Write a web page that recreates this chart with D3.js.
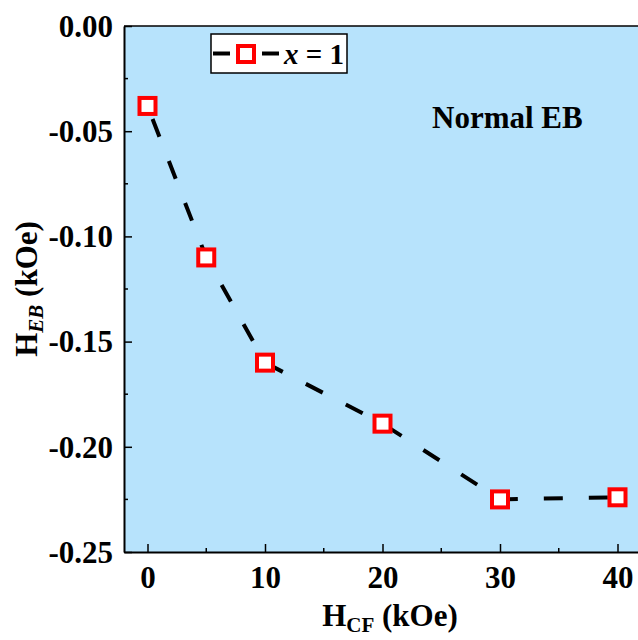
<!DOCTYPE html>
<html>
<head>
<meta charset="utf-8">
<script src="https://cdn.jsdelivr.net/npm/d3@7"></script>
<style>
  body { margin: 0; background: #fff; }
  svg text { font-family: "Liberation Serif", Tinos, "Times New Roman", Times, "DejaVu Serif", serif !important; font-weight: bold; }
</style>
</head>
<body>
<svg id="chart" width="638" height="640"></svg>
<script>
// data
const hcf = [0, 5, 10, 20, 30, 40];
const heb = [-0.038, -0.110, -0.160, -0.189, -0.225, -0.224];
const xTicks = [0, 10, 20, 30, 40];
const yTicks = [0, -0.05, -0.10, -0.15, -0.20, -0.25];

const svg = d3.select("#chart");
const plotL = 124, plotT = 26, plotB = 552, plotR = 641;
const serif = "'Liberation Serif', Tinos, 'Times New Roman', Times, 'DejaVu Serif', serif";

const x = d3.scaleLinear().domain([-2, 42]).range([plotL, plotR]);
const y = d3.scaleLinear().domain([-0.25, 0]).range([plotB, plotT]);

// plot background
svg.append("rect")
    .attr("x", plotL).attr("y", plotT)
    .attr("width", plotR - plotL).attr("height", plotB - plotT)
    .attr("fill", "#b7e3fc");

// top border
svg.append("line")
    .attr("x1", plotL).attr("x2", plotR)
    .attr("y1", plotT).attr("y2", plotT)
    .attr("stroke", "#000").attr("stroke-width", 1.5);

// bottom axis
let xAxis = svg.append("g")
    .attr("transform", `translate(0,${plotB})`)
    .call(d3.axisBottom(x).tickValues(xTicks).tickSize(-8).tickPadding(14).tickSizeOuter(0));
xAxis.append("g").selectAll("line")
    .data([5, 15, 25, 35])
    .enter().append("line")
    .attr("x1", d => x(d)).attr("x2", d => x(d))
    .attr("y1", 0).attr("y2", -4)
    .attr("stroke", "#000").attr("stroke-width", 1.5);

// left axis
let yAxis = svg.append("g")
    .attr("transform", `translate(${plotL},0)`)
    .call(d3.axisLeft(y).tickValues(yTicks)
        .tickFormat(d => d3.format(".2f")(d).replace("\u2212", "-"))
        .tickSize(-8).tickPadding(11).tickSizeOuter(0));
yAxis.append("g").selectAll("line")
    .data([-0.025, -0.075, -0.125, -0.175, -0.225])
    .enter().append("line")
    .attr("x1", 0).attr("x2", 4)
    .attr("y1", d => y(d)).attr("y2", d => y(d))
    .attr("stroke", "#000").attr("stroke-width", 1.5);

svg.selectAll("g").attr("font-family", serif);
svg.selectAll(".domain").attr("stroke", "#000").attr("stroke-width", 2);
svg.selectAll(".tick line").attr("stroke", "#000").attr("stroke-width", 1.5);
svg.selectAll(".tick text")
    .attr("font-weight", "bold")
    .attr("font-size", 31)
    .attr("fill", "#000");
yAxis.selectAll(".tick text").attr("dy", "0.33em");

// dashed line
const pts = hcf.map((d, i) => [d, heb[i]]);
svg.append("path")
    .datum(pts)
    .attr("fill", "none")
    .attr("stroke", "#000")
    .attr("stroke-width", 4)
    .attr("stroke-dasharray", "19,26")
    .attr("stroke-dashoffset", -14)
    .attr("d", d3.line().x(d => x(d[0])).y(d => y(d[1])));

// markers
svg.selectAll("rect.pt")
    .data(pts)
    .enter().append("rect")
    .attr("class", "pt")
    .attr("x", d => x(d[0]) - 8).attr("y", d => y(d[1]) - 8)
    .attr("width", 16).attr("height", 16)
    .attr("fill", "#fff")
    .attr("stroke", "#ff0000")
    .attr("stroke-width", 4);

// legend
let lg = svg.append("g");
lg.append("rect")
    .attr("x", 211).attr("y", 34).attr("width", 136).attr("height", 39)
    .attr("fill", "#fff").attr("stroke", "#000").attr("stroke-width", 1.5);
lg.append("line")
    .attr("x1", 213).attr("x2", 230).attr("y1", 53.5).attr("y2", 53.5)
    .attr("stroke", "#000").attr("stroke-width", 4);
lg.append("line")
    .attr("x1", 262).attr("x2", 279).attr("y1", 53.5).attr("y2", 53.5)
    .attr("stroke", "#000").attr("stroke-width", 4);
lg.append("rect")
    .attr("x", 238).attr("y", 46).attr("width", 16).attr("height", 16)
    .attr("fill", "#fff").attr("stroke", "#ff0000").attr("stroke-width", 4);
let lt = lg.append("text")
    .attr("x", 284).attr("y", 64)
    .attr("font-size", 29);
lt.append("tspan").attr("font-style", "italic").text("x");
lt.append("tspan").text(" = 1");

// annotation
svg.append("text")
    .attr("x", 432).attr("y", 128)
    .attr("font-size", 31)
    .text("Normal EB");

// axis titles
let xt = svg.append("text")
    .attr("x", 390).attr("y", 626)
    .attr("text-anchor", "middle")
    .attr("font-size", 31);
xt.append("tspan").text("H");
xt.append("tspan").attr("font-size", 21).attr("dy", 6).text("CF");
xt.append("tspan").attr("dy", -6).text(" (kOe)");

let yt = svg.append("text")
    .attr("transform", "translate(37,289) rotate(-90)")
    .attr("text-anchor", "middle")
    .attr("font-size", 31);
yt.append("tspan").text("H");
yt.append("tspan").attr("font-size", 21).attr("font-style", "italic").attr("dy", 6).text("EB");
yt.append("tspan").attr("dy", -6).text(" (kOe)");
</script>
</body>
</html>
